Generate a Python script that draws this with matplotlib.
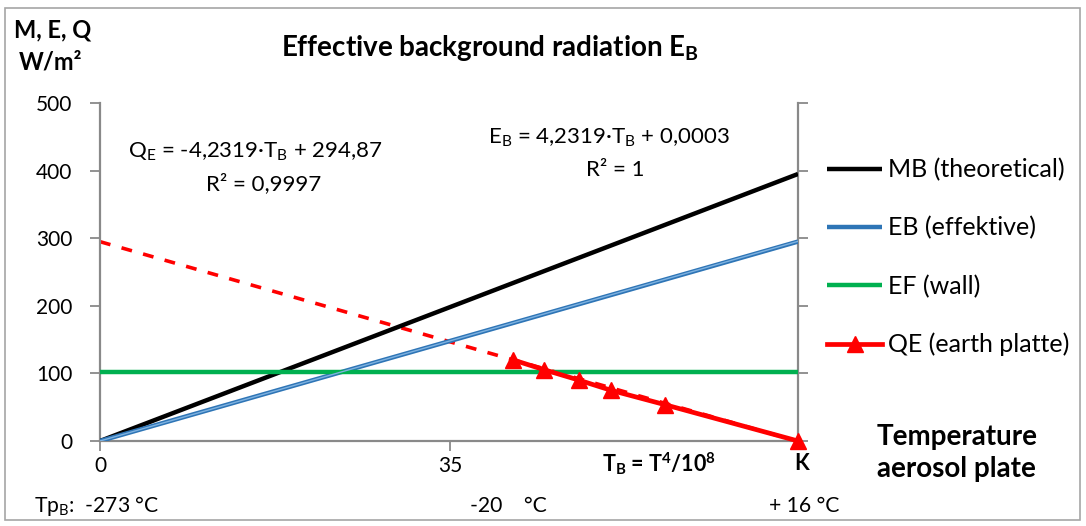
import matplotlib
matplotlib.use("Agg")
import matplotlib.pyplot as plt
from matplotlib.patches import Rectangle
import numpy as np

plt.rcParams['font.family'] = ['Lato', 'DejaVu Sans']
plt.rcParams['mathtext.fontset'] = 'custom'
plt.rcParams['mathtext.rm'] = 'Lato'
plt.rcParams['mathtext.it'] = 'Lato:italic'
plt.rcParams['mathtext.bf'] = 'Lato:bold'

# ---- data ----
x_lines = [0.0, 69.8]
mb_values = [0.0, 395.0]          # MB (theoretical)
eb_values = [0.0, 295.0]          # EB (effektive)
ef_values = [102.0, 102.0]        # EF (wall)
qe_x = [41.3, 44.4, 47.9, 51.1, 56.5, 69.8]
qe_values = [120.0, 105.5, 90.0, 75.0, 53.7, 0.0]
qe_slope, qe_intercept = -4.2319, 294.87
eb_slope, eb_intercept = 4.2319, 0.0003
y_ticks = [0, 100, 200, 300, 400, 500]
x_ticks = [0, 35]
x_tick_labels = ['0', '35']
legend_labels = ['MB (theoretical)', 'EB (effektive)', 'EF (wall)', 'QE (earth platte)']

W, H = 1086, 526
fig = plt.figure(figsize=(W / 100, H / 100), dpi=100)

def fx(px):
    return px / W

def fy(py):
    return 1 - py / H

ax = fig.add_axes([fx(100), fy(441), fx(798) - fx(100), fy(103) - fy(441)])

grey = '#898989'
tx = np.array([0.0, 69.8])
# trendlines
ax.plot(tx, qe_slope * tx + qe_intercept, color='#FF0000', lw=2.6,
        linestyle=(0, (3, 3.2)), zorder=2)
l_mb, = ax.plot(x_lines, mb_values, color='black', lw=3.2, zorder=3,
                solid_capstyle='butt')
l_eb, = ax.plot(x_lines, eb_values, color='#2E75B6', lw=3.2, zorder=3,
                solid_capstyle='butt')
ax.plot(tx, eb_slope * tx + eb_intercept, color='#7FB2E0', lw=1.0, zorder=4)
l_ef, = ax.plot(x_lines, ef_values, color='#00B050', lw=3.2, zorder=3,
                solid_capstyle='butt')
l_qe, = ax.plot(qe_x, qe_values, color='#FF0000', lw=3.4, marker='^',
                markersize=12, zorder=5, clip_on=False)

TICK_FS = 15
ax.set_xlim(0, 69.8)
ax.set_ylim(0, 500)
ax.set_yticks(y_ticks)
ax.set_yticklabels([str(v) for v in y_ticks], fontsize=TICK_FS)
ax.set_xticks(x_ticks)
ax.set_xticklabels(x_tick_labels, fontsize=TICK_FS)

for s in ['left', 'right', 'bottom']:
    ax.spines[s].set_color(grey)
    ax.spines[s].set_linewidth(1.6)
ax.spines['top'].set_visible(False)
ax.tick_params(axis='y', which='both', direction='out', length=7, width=1.3,
               color=grey, right=True, pad=13)
ax.tick_params(axis='x', direction='out', length=7, width=1.3, color=grey,
               pad=4)

# legend
leg = fig.legend([l_mb, l_eb, l_ef, l_qe], legend_labels,
                 loc='upper left', bbox_to_anchor=(fx(817), fy(148)),
                 frameon=False, fontsize=18, handlelength=2.2,
                 handletextpad=0.25, labelspacing=1.4, borderaxespad=0)

# texts
fig.text(fx(53), fy(30), 'M, E, Q', fontsize=17, fontweight='bold',
         ha='center', va='center')
fig.text(fx(51), fy(62), 'W/m²', fontsize=17, fontweight='bold',
         ha='center', va='center')
fig.text(fx(490), fy(48), r'Effective background radiation E$_\mathbf{B}$',
         fontsize=20, fontweight='bold', ha='center', va='center')
fig.text(fx(255), fy(152), r'Q$_\mathrm{E}$ = -4,2319·T$_\mathrm{B}$ + 294,87',
         fontsize=16, ha='center', va='center')
fig.text(fx(264), fy(184), 'R² = 0,9997', fontsize=16, ha='center', va='center')
fig.text(fx(609), fy(138), r'E$_\mathrm{B}$ = 4,2319·T$_\mathrm{B}$ + 0,0003',
         fontsize=16, ha='center', va='center')
fig.text(fx(615), fy(170), 'R² = 1', fontsize=16, ha='center', va='center')
fig.text(fx(659), fy(464), r'T$_\mathbf{B}$ = T$^\mathbf{4}$/10$^\mathbf{8}$',
         fontsize=15.5, fontweight='bold', ha='center', va='center')
fig.text(fx(802), fy(464), 'K', fontsize=15.5, fontweight='bold',
         ha='center', va='center')
fig.text(fx(877), fy(437), 'Temperature', fontsize=20, fontweight='bold',
         ha='left', va='center')
fig.text(fx(877), fy(469), 'aerosol plate', fontsize=20, fontweight='bold',
         ha='left', va='center')
fig.text(fx(34), fy(506), r'Tp$_\mathrm{B}$:  -273 °C', fontsize=15.2,
         ha='left', va='center')
fig.text(fx(470), fy(506), '-20    °C', fontsize=15.2, ha='left', va='center')
fig.text(fx(804), fy(506), '+ 16 °C', fontsize=15.2, ha='center', va='center')

fig.patches.append(Rectangle((fx(5), fy(520)), fx(1080) - fx(5), fy(8) - fy(520),
                             transform=fig.transFigure, fill=False,
                             edgecolor='#A6A6A6', lw=1.2))

fig.savefig('out.png', dpi=100)
